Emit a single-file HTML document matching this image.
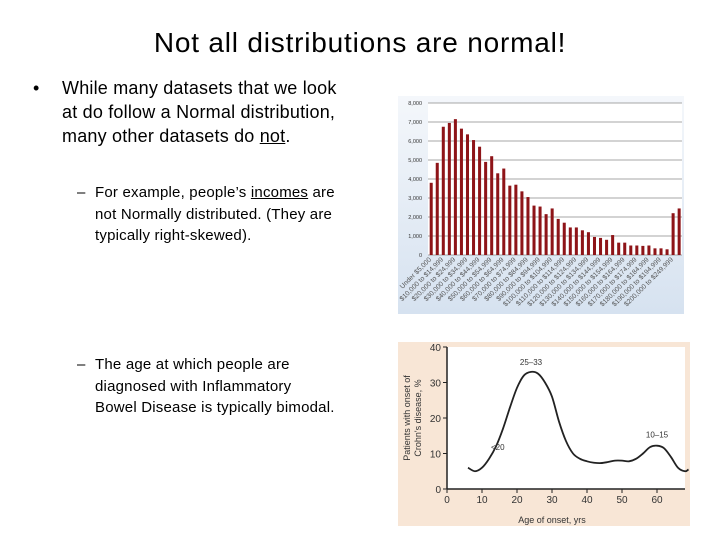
<!DOCTYPE html>
<html><head><meta charset="utf-8"><style>
body{margin:0;width:720px;height:540px;background:#fff;font-family:"Liberation Sans",sans-serif;position:relative;overflow:hidden}
.t{position:absolute;white-space:nowrap;color:#000}
</style></head><body>
<div class="t" style="left:0;width:720px;top:27px;text-align:center;font-size:28px;letter-spacing:0.8px">Not all distributions are normal!</div>
<div class="t" style="left:33px;top:76px;font-size:18px;line-height:24px">•</div>
<div class="t" style="left:62px;top:76px;font-size:18px;line-height:24px;letter-spacing:0.2px">While many datasets that we look<br>at do follow a Normal distribution,<br>many other datasets do <u>not</u>.</div>
<div class="t" style="left:77px;top:182px;font-size:15px;line-height:21.5px">–</div>
<div class="t" style="left:95px;top:182px;font-size:15px;line-height:21.5px;letter-spacing:0.2px">For example, people’s <u>incomes</u> are<br>not Normally distributed. (They are<br>typically right-skewed).</div>
<div class="t" style="left:77px;top:354px;font-size:15px;line-height:21.5px">–</div>
<div class="t" style="left:95px;top:354px;font-size:15px;line-height:21.5px;letter-spacing:0.2px">The age at which people are<br>diagnosed with Inflammatory<br>Bowel Disease is typically bimodal.</div>

<svg id="inc" width="720" height="540" style="position:absolute;left:0;top:0">
<defs><linearGradient id="bg" x1="0" y1="0" x2="0" y2="1"><stop offset="0" stop-color="#f4f7fb"/><stop offset="1" stop-color="#d6e2f0"/></linearGradient></defs>
<rect x="398" y="96" width="286" height="218" fill="url(#bg)"/>
<rect x="428" y="103" width="254" height="152" fill="#fff"/>
<g id="incg"></g>
</svg>
<svg id="cro" width="720" height="540" style="position:absolute;left:0;top:0">
<rect x="398" y="342" width="292" height="184" fill="#f8e6d6"/>
<rect x="447" y="347" width="238" height="142" fill="#fff"/>
<g id="crog"></g>
</svg>
<script>
const incomeValues=[3800,4850,6750,6950,7150,6650,6350,6050,5700,4900,5200,4300,4550,3650,3700,3350,3050,2600,2550,2150,2450,1900,1700,1450,1450,1300,1200,950,900,800,1050,650,650,500,500,480,500,350,350,300,2200,2450];
const incomeTicks=[0,1000,2000,3000,4000,5000,6000,7000,8000];
const incomeCats=[];
for(let i=0;i<40;i++){incomeCats.push(i===0?"Under $5,000":"$"+(i*5).toLocaleString("en-US")+",000 to $"+(i*5+4)+",999");}
incomeCats.push("$200,000 to $249,999","$250,000 and over");
const ageX=[6,8,10,12,14,16,18,20,22,24,26,28,30,32,34,36,38,40,42,44,46,48,50,52,54,56,58,60,62,64,66,68,69];
const pctY=[6,5,6,8.5,12,17,23,28.5,32,33,32.5,30,26,19,13.5,10,8.5,7.8,7.4,7.3,7.6,8,8,7.8,8.5,10,11.8,12.2,11.5,9,6,5,5.5];
const ageTicks=[0,10,20,30,40,50,60];
const pctTicks=[0,10,20,30,40];
const NS="http://www.w3.org/2000/svg";
function mk(p,tag,a,txt){const e=document.createElementNS(NS,tag);for(const k in a)e.setAttribute(k,a[k]);if(txt!=null)e.textContent=txt;p.appendChild(e);return e;}
// income
const g=document.getElementById('incg');
const x0=428,x1=682,yB=255,yT=103;
const yI=v=>yB-(v/8000)*(yB-yT);
const bw=(x1-x0)/incomeValues.length;
incomeTicks.forEach(t=>{
 const l=mk(g,'line',{x1:x0,x2:x1,y1:yI(t),y2:yI(t),stroke:'#8a8a8a','stroke-width':0.8});
 
 
 const tx=mk(g,'text',{x:x0-6,y:yI(t)+2,'font-size':5.5,'text-anchor':'end',fill:'#333'},t.toLocaleString('en-US'));
 
 
});
incomeValues.forEach((v,i)=>{
 const r=mk(g,'rect',{x:x0+i*bw+bw*0.28,y:yI(v),width:bw*0.5,height:yB-yI(v),fill:'#8e1418'});
 
 
});
incomeCats.forEach((c,i)=>{
 if(i%2)return;
 const cx=x0+i*bw+bw*0.6,cy=yB+5;
 const tx=mk(g,'text',{x:cx,y:cy,'font-size':6.8,'text-anchor':'end',fill:'#555',transform:`rotate(-45 ${cx} ${cy})`},c);
 
 
});
// crohns
const h=document.getElementById('crog');
const cx0=447,yb=489;
const xA=a=>cx0+a*3.5,yP=p=>yb-p*3.55;
mk(h,'line',{x1:cx0,x2:cx0,y1:347,y2:yb,stroke:'#222','stroke-width':1.5});
mk(h,'line',{x1:cx0,x2:685,y1:yb,y2:yb,stroke:'#222','stroke-width':1.5});
pctTicks.forEach(t=>{
 mk(h,'line',{x1:cx0-4,x2:cx0,y1:yP(t),y2:yP(t),stroke:'#222'});
 const tx=mk(h,'text',{x:cx0-6,y:yP(t)+4,'font-size':10,'text-anchor':'end',fill:'#333'},t);
 
 
});
ageTicks.forEach(t=>{
 mk(h,'line',{x1:xA(t),x2:xA(t),y1:yb,y2:yb+4,stroke:'#222'});
 const tx=mk(h,'text',{x:xA(t),y:yb+14,'font-size':10,'text-anchor':'middle',fill:'#333'},t);
 
 
});
let d='';
for(let i=0;i<ageX.length;i++){
 const px=xA(ageX[i]),py=yP(pctY[i]);
 if(i===0){d='M'+px+' '+py;continue;}
 const p0=i>1?[xA(ageX[i-2]),yP(pctY[i-2])]:[xA(ageX[i-1]),yP(pctY[i-1])];
 const p1=[xA(ageX[i-1]),yP(pctY[i-1])];
 const p3=i<ageX.length-1?[xA(ageX[i+1]),yP(pctY[i+1])]:[px,py];
 d+=` C${p1[0]+(px-p0[0])/6} ${p1[1]+(py-p0[1])/6} ${px-(p3[0]-p1[0])/6} ${py-(p3[1]-p1[1])/6} ${px} ${py}`;
}
const cur=mk(h,'path',{d:d,fill:'none',stroke:'#222','stroke-width':1.8});


[['25–33',24,35],['<20',14.5,11],['10–15',60,14.5]].forEach(a=>{
 const tx=mk(h,'text',{x:xA(a[1]),y:yP(a[2]),'font-size':8,'text-anchor':'middle',fill:'#333'},a[0]);
 
 
});
const xt=mk(h,'text',{x:xA(30),y:523,'font-size':9,'text-anchor':'middle',fill:'#333'},'Age of onset, yrs');


const yt=mk(h,'text',{x:0,y:0,'font-size':9,'text-anchor':'middle',fill:'#333',transform:'translate(410 418) rotate(-90)'});
mk(yt,'tspan',{x:0,dy:0},'Patients with onset of');
mk(yt,'tspan',{x:0,dy:11},"Crohn's disease, %");


</script>
</body></html>
